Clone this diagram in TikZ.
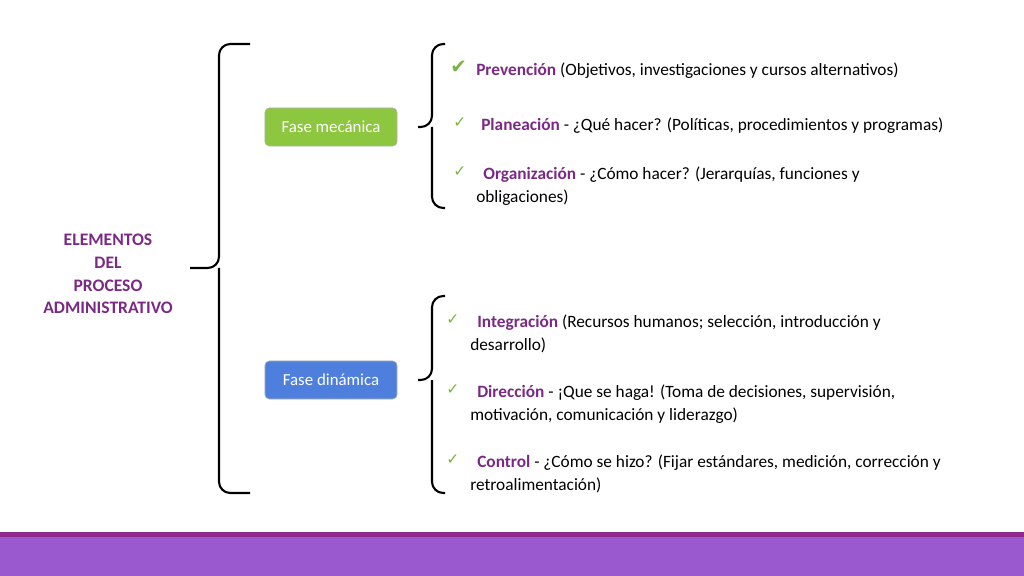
\documentclass[tikz,border=0pt]{standalone}
\usepackage{fontspec}
\setmainfont{Carlito}
\newfontfamily\symfont{DejaVu Sans}
\usetikzlibrary{positioning}
\definecolor{titlepurple}{HTML}{7A2A84}
\definecolor{checkgreen}{HTML}{7CB342}
\definecolor{phasegreen}{HTML}{8DC63F}
\definecolor{phaseblue}{HTML}{4F7FDD}
\definecolor{bardark}{HTML}{8E2A8E}
\definecolor{barfill}{HTML}{9B59D0}

\begin{document}
\begin{tikzpicture}[x=0.025cm, y=-0.025cm,
    % Define styles
    phase/.style={rectangle, draw=gray!60, rounded corners=3pt, minimum width=3.3cm, minimum height=0.95cm, text=white, font=\fontsize{12}{14}\selectfont},
    brace/.style={draw=black, line width=1.5pt, rounded corners=8pt},
    item/.style={anchor=north west, inner sep=0pt, align=left, font=\fontsize{12.3}{16.2}\selectfont},
    check/.style={anchor=north west, inner sep=0pt, text=checkgreen, font=\symfont\fontsize{11}{12}\selectfont},
    ]
    \useasboundingbox (0,0) rectangle (1024,576);

    % Bottom bar
    \fill[bardark] (0,532) rectangle (1024,537);
    \fill[barfill] (0,537) rectangle (1024,576);

    % Title
    \node[align=center, text=titlepurple, font=\bfseries\fontsize{12.5}{16.2}\selectfont] (title) at (108,274) {ELEMENTOS\\DEL\\PROCESO\\ADMINISTRATIVO};

    % Braces
    \draw[brace] (250,44) -- (219,44) -- (219,268) -- (190,268);
    \draw[brace] (250,493) -- (219,493) -- (219,268);
    \draw[brace] (445,44) -- (432,44) -- (432,127) -- (418,127);
    \draw[brace] (445,208) -- (432,208) -- (432,127);
    \draw[brace] (445,296) -- (432,296) -- (432,380) -- (418,380);
    \draw[brace] (445,493) -- (432,493) -- (432,380);

    % Phases
    \node[phase, fill=phasegreen] (mecanica) at (331,127) {Fase mecánica};
    \node[phase, fill=phaseblue] (dinamica) at (331,380) {Fase dinámica};

    % Items of the mechanical phase
    \node[check, font=\symfont\fontsize{14}{14}\selectfont] (c1) at (450,61) {✔};
    \node[item] (prevencion) at (476,63) {\textcolor{titlepurple}{\textbf{Prevención}} (Objetivos, investigaciones y cursos alternativos)};
    \node[check] (c2) at (453,117) {✓};
    \node[item] (planeacion) at (481,118) {\textcolor{titlepurple}{\textbf{Planeación}} - ¿Qué hacer? (Políticas, procedimientos y programas)};
    \node[check] (c3) at (453,166) {✓};
    \node[item] (organizacion) at (476,167) {\hspace*{5pt}\textcolor{titlepurple}{\textbf{Organización}} - ¿Cómo hacer? (Jerarquías, funciones y\\obligaciones)};

    % Items of the dynamic phase
    \node[check] (c4) at (446,314) {✓};
    \node[item] (integracion) at (470,315) {\hspace*{5pt}\textcolor{titlepurple}{\textbf{Integración}} (Recursos humanos; selección, introducción y\\desarrollo)};
    \node[check] (c5) at (446,384) {✓};
    \node[item] (direccion) at (470,385) {\hspace*{5pt}\textcolor{titlepurple}{\textbf{Dirección}} - ¡Que se haga! (Toma de decisiones, supervisión,\\motivación, comunicación y liderazgo)};
    \node[check] (c6) at (446,454) {✓};
    \node[item] (control) at (470,455) {\hspace*{5pt}\textcolor{titlepurple}{\textbf{Control}} - ¿Cómo se hizo? (Fijar estándares, medición, corrección y\\retroalimentación)};
\end{tikzpicture}
\end{document}
